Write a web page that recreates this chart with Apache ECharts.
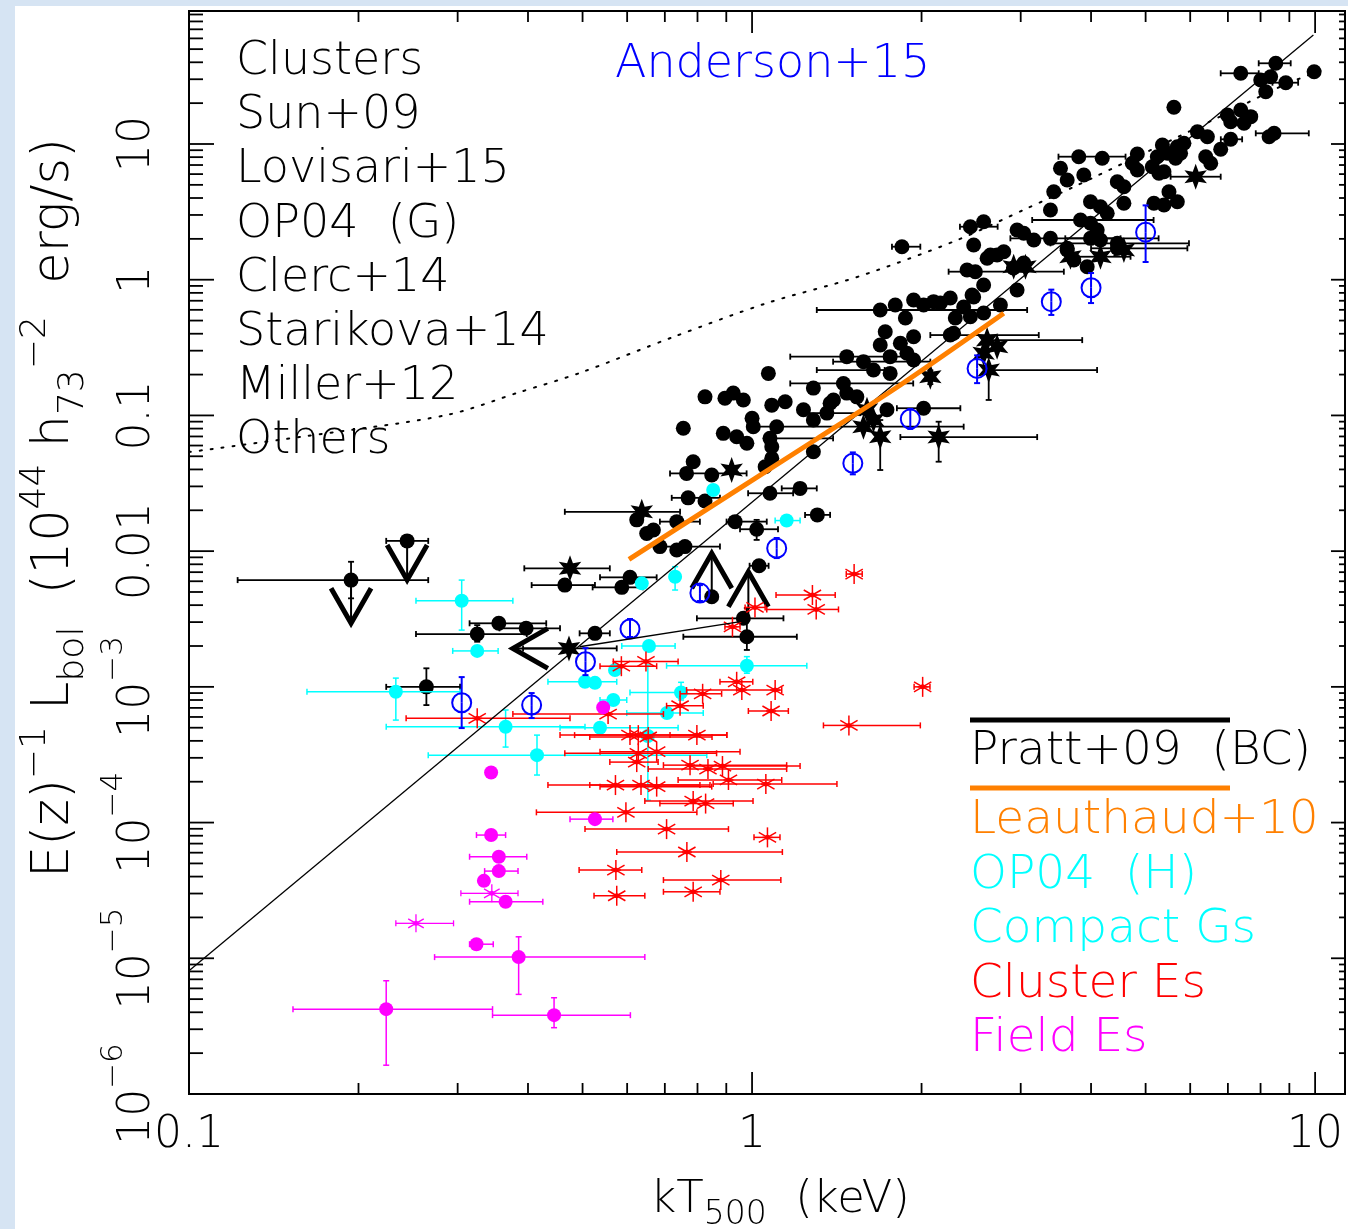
<!DOCTYPE html>
<html>
<head>
<meta charset="utf-8">
<script src="https://cdn.jsdelivr.net/npm/echarts@6/dist/echarts.min.js"></script>
<style>
html,body{margin:0;padding:0;background:#d6e4f3;}
#c{width:1348px;height:1229px;}
</style>
</head>
<body>
<div id="c"></div>
<script>
// ---------------- DATA ----------------
// tick values
const xMajorTicks = [0.1, 1, 10];
const xMinorTicks = [0.2,0.3,0.4,0.5,0.6,0.7,0.8,0.9,2,3,4,5,6,7,8,9];
const yMajorTicks = [1e-6,1e-5,1e-4,1e-3,1e-2,0.1,1,10];
const yMinorTicks = [];
[1e-6,1e-5,1e-4,1e-3,1e-2,0.1,1,10].forEach(function(d){ for (let k=2;k<=9;k++) yMinorTicks.push(+(d*k).toPrecision(3)); });
const xTickLabels = {'-1':'0.1','0':'1','1':'10'};
const yTickLabels = {'-6':'{n|10}{s|\u22126}','-5':'{n|10}{s|\u22125}','-4':'{n|10}{s|\u22124}','-3':'{n|10}{s|\u22123}','-2':'{n|0.01}','-1':'{n|0.1}','0':'{n|1}','1':'{n|10}'};

// Clusters (black filled circles): [kT, L, kTlo, kThi, Llo, Lhi]
const clusterDots = [
 [0.194,6.12e-3,0.122,0.266,4.49e-3,8.35e-3],[0.244,0.0119,0.224,0.266],[0.325,2.45e-3,0.253,0.398,2.15e-3,2.85e-3],
 [0.355,2.94e-3,0.315,0.431],[0.397,2.70e-3,0.356,0.456],[0.526,2.48e-3,0.494,0.559],
 [0.264,1.0e-3,0.224,0.303,7.34e-4,1.37e-3],[0.465,5.62e-3,0.406,0.526],[0.607,6.41e-3,0.537,0.677],
 [0.587,5.41e-3,0.521,0.640],[0.624,0.0170],[0.650,0.0135],[0.668,0.0143],[0.735,0.0165,0.686,0.808],
 [0.686,0.0108],[0.735,0.0102],[0.760,0.0108,0.686,0.877],[0.965,3.20e-3,0.798,1.137],
 [0.979,2.34e-3,0.755,1.201,1.87e-3,3.81e-3],[0.848,4.61e-3],[1.029,7.80e-3,0.99,1.07],
 [0.933,0.0165,0.901,1.062],[1.019,0.0145,0.952,1.112,0.0121,0.0170],[1.306,0.0185,1.242,1.376],
 [1.217,0.0290,1.129,1.303],[1.076,0.0267,0.984,1.183],[0.770,0.0247,0.720,0.877],[0.825,0.0234],
 [0.786,0.0456],[0.765,0.0374,0.715,0.978],[0.848,0.0364],[1.084,0.0483],[1.055,0.0419],[1.285,0.0540],
 [0.755,0.0804],[0.889,0.0738],[0.939,0.0696],[0.979,0.0623],[1.000,0.0952],[1.005,0.0826],
 [1.076,0.0678,1.055,1.393],[1.084,0.0588],[1.106,0.0826],[0.825,0.137],[0.895,0.134],[0.926,0.146],
 [0.965,0.130],[1.084,0.119],[1.145,0.126],[1.234,0.110],[1.285,0.0925],[1.069,0.204],[1.285,0.159],
 [1.453,0.172,1.169,1.933],[1.395,0.130],[1.473,0.146],[1.376,0.123],[1.358,0.104,1.217,1.556],
 [1.535,0.137],[1.736,0.110],[2.017,0.113,1.808,2.344],[1.473,0.271,1.169,1.933],[1.577,0.249,1.393,2.073],
 [1.759,0.271],[1.884,0.287],[1.936,0.256],[1.643,0.216,1.303,1.72],[1.759,0.204],
 [2.249,0.391,2.073,3.230],[1.724,0.414],[1.689,0.330],[1.834,0.340],[1.936,0.380],
 [1.689,0.598,1.303,3.08],[1.936,0.709],[2.017,0.651],[2.160,0.673],[2.376,0.629],[2.475,0.746],
 [2.578,0.568],[2.442,0.534],[2.101,0.689],[2.28,0.403],[1.846,1.751,1.772,1.990],
 [1.796,0.651],[2.249,0.733],[2.761,0.651],[1.872,0.522],[2.296,0.522],
 [2.442,2.458,2.34,2.73],[2.578,2.676],[2.475,1.802],[2.724,1.521],[2.615,1.438],
 [2.492,1.146,2.234,3.579],[2.578,0.914],[2.956,0.840],[2.912,1.219],[3.038,1.327],[2.409,1.179],
 [2.459,0.771],[2.650,1.521],[2.799,1.608],[2.956,2.324],[3.038,2.198],[3.165,1.961],
 [3.388,2.018,2.876,4.513],[3.388,3.264],[3.434,4.451],[3.628,5.429],[3.530,6.62],[3.883,5.909],
 [3.804,8.063,3.501,4.606],[4.187,7.847],[4.453,5.276],[4.575,4.846],[4.735,7.209],[4.833,6.433],
 [4.833,8.441],[5.139,6.80],[5.280,6.083],[5.390,6.250],[5.245,8.063],[5.464,8.54],[5.652,7.847],
 [5.769,8.54],[5.355,9.83],[5.692,9.55],[5.848,10.12],[6.393,8.063],[6.525,7.209],[6.797,9.14],
 [5.501,4.451],[5.692,3.757],[3.991,3.757],[4.157,3.451],[4.273,3.085],[4.575,3.656],[5.172,3.656],
 [5.390,3.552],[3.831,2.754,3.144,5.166],[3.991,2.604],[4.102,2.324],[4.157,1.961],[3.628,1.704],
 [4.453,1.854,3.388,5.970],[3.991,2.018,3.6,5.273],[3.937,1.247],[3.628,1.655],[3.728,1.397],
 [4.453,1.704,4.0,5.931],[5.613,18.64],[6.986,16.36],[7.378,17.81],[7.686,15.90],[7.477,14.21],
 [7.08,14.60],[6.179,12.32],[6.437,11.32],[7.08,10.83,6.8,7.42],[8.456,11.99,7.845,9.745],
 [8.285,11.32],[8.514,39.33,7.94,9.05],[7.378,33.19,6.797,7.94],[9.96,34.10],[8.337,31.33],
 [8.006,29.63],[8.87,28.30,8.4,9.33],[8.172,24.29]
];
// Clusters (black stars)
const clusterStars = [
 [0.473,1.92e-3,0.392,0.575],[0.475,7.47e-3,0.394,0.559],[0.637,0.0195,0.465,0.745],[0.920,0.0396],
 [1.600,0.110],[1.643,0.0925],[1.577,0.0826,1.004,2.376],[1.689,0.0697,0,0,0.0396,0.0925],
 [2.145,0.0693,1.834,3.209,0.0456,0.0899],[2.073,0.193,0,0,0.17,0.215],[2.578,0.287],
 [2.632,0.216,0,4.10,0.130,0],[2.615,0.359,0,3.858],[2.724,0.321],[3.059,1.247],
 [6.136,5.741,5.538,6.797],[3.677,1.477],[4.157,1.477,3.779,4.701],[4.575,1.655],[2.915,1.247]
];
// limits: [kT, L, kT at arrow tip, L at arrow tip]
const limitArrows = [
 [0.194,6.12e-3,0.194,2.94e-3],[0.244,0.0119,0.244,6.12e-3],
 [0.848,4.61e-3,0.848,9.63e-3],[0.985,3.2e-3,0.985,7.05e-3],[0.473,1.92e-3,0.376,1.92e-3]
];
// Anderson+15: [kT, L, -, -, Llo, Lhi]
const anderson15 = [
 [0.305,7.64e-4,0,0,4.97e-4,1.18e-3],[0.406,7.34e-4,0,0,5.89e-4,9.0e-4],[0.506,1.53e-3,0,0,1.22e-3,1.93e-3],
 [0.607,2.67e-3,0,0,2.33e-3,3.16e-3],[0.808,4.91e-3,0,0,4.29e-3,5.62e-3],[1.106,0.0105,0,0,0.00889,0.0125],
 [1.51,0.0444,0,0,0.0368,0.0534],[1.91,0.0941,0,0,0.0795,0.1115],[2.51,0.222,0,0,0.173,0.277],
 [3.40,0.689,0,0,0.550,0.845],[4.00,0.873,0,0,0.673,1.12],[5.00,2.24,0,0,1.35,3.53]
];
// OP04 (H) / Compact groups (cyan)
const compactGroups = [
 [0.305,4.31e-3,0.253,0.376,2.62e-3,6.12e-3],[0.325,1.84e-3,0.294,0.354],[0.233,9.20e-4,0.162,0.303,5.69e-4,1.16e-3],
 [0.365,5.08e-4,0.224,0.505,3.60e-4,6.75e-4],[0.415,3.14e-4,0.266,0.831,2.24e-4,4.41e-4],[0.656,2.0e-3,0.587,0.730],
 [0.505,1.09e-3,0.434,0.575],[0.526,1.07e-3],[0.567,8.0e-4,0.537,0.599],[0.748,9.08e-4,0.607,0.760,8.0e-4,1.08e-3],
 [0.706,6.41e-4,0.599,0.819],[0.653,4.34e-4,0,0,1.46e-4,1.45e-3],[1.152,0.0168,1.099,1.217],
 [0.730,6.48e-3,0,0,5.17e-3,7.68e-3],[0.637,5.79e-3],[0.979,1.43e-3,0.705,1.251,1.26e-3,1.67e-3],
 [0.571,1.33e-3],[0.537,5.0e-4,0.456,0.739],[0.853,0.0282]
];
// Cluster Es (red asterisks)
const clusterEs = [
 [1.518,6.78e-3,1.47,1.569],[1.280,4.75e-3,1.103,1.405],[1.300,3.72e-3,1.062,1.424],[1.012,3.85e-3,0.972,1.055],
 [0.923,2.77e-3,0.895,0.952],[0.648,1.54e-3,0.567,0.739],[0.586,1.42e-3,0.537,0.677],[0.939,1.09e-3,0.877,1.003],
 [0.959,9.47e-4],[1.099,9.47e-4,0.765,1.129],[0.817,8.89e-4,0.745,0.883],[2.009,1.0e-3,1.94,2.07],
 [1.081,6.64e-4,0.985,1.160],[0.745,7.26e-4,0.705,0.819],[0.325,5.86e-4,0.243,0.475],[0.555,6.30e-4,0.376,0.696],
 [1.486,5.20e-4,1.339,1.990],[0.607,4.41e-4,0.456,0.902],[0.628,4.41e-4,0.484,0.808],[0.654,4.27e-4,0.515,0.849],
 [0.798,4.41e-4,0.715,0.902],[0.628,3.24e-4,0.465,0.865],[0.677,3.33e-4,0.537,0.952],[0.624,2.79e-4,0.559,0.681],
 [0.776,2.65e-4,0.696,1.152],[0.835,2.48e-4,0.654,1.152],[0.886,2.61e-4,0.776,1.217],[0.908,2.06e-4,0.739,1.129],
 [1.058,1.92e-4,0.853,1.415],[0.572,1.89e-4,0.434,0.842],[0.635,1.89e-4,0.515,0.808],[0.677,1.84e-4,0.537,0.848],
 [0.786,1.44e-4,0.645,1.004],[0.827,1.38e-4,0.686,0.926],[0.597,1.19e-4,0.414,0.798],[0.705,8.95e-5,0.505,0.908],
 [1.065,7.78e-5,1.008,1.121],[0.766,6.07e-5,0.575,1.132],[0.573,4.47e-5,0.493,0.637],[0.880,3.77e-5,0.696,1.125],
 [0.786,3.09e-5,0.696,0.877],[0.575,2.89e-5,0.524,0.645]
];
// Field Es (magenta)
const fieldEsDots = [
 [0.344,2.34e-4],[0.526,1.06e-4,0.475,0.566],[0.344,8.09e-5,0.324,0.365],[0.355,5.60e-5,0.315,0.398],
 [0.355,4.39e-5,0.335,0.384],[0.334,3.72e-5],[0.365,2.61e-5,0.315,0.425],[0.324,1.27e-5,0.315,0.347],
 [0.385,1.02e-5,0.273,0.645,5.42e-6,1.44e-5],[0.224,4.22e-6,0.153,0.346,1.63e-6,6.83e-6],
 [0.445,3.81e-6,0.346,0.608,3.08e-6,5.12e-6],[0.544,7.06e-4]
];
const fieldEsStars = [[0.345,3.01e-5,0.304,0.384],[0.253,1.81e-5,0.233,0.295]];
// relations
const prattLine = [[0.1,8.1e-6],[9.93,63.5]];
const leauthaudLine = [[0.6045,8.70e-3],[1.294,0.0659],[1.834,0.1675],[2.799,0.5655]];
const othersCurve = [[0.1,0.0537],[0.157,0.0693],[0.287,0.1007],[0.387,0.1487],[0.494,0.2053],[0.724,0.378],
 [1.063,0.673],[1.537,1.047],[2.316,1.962],[3.084,3.37],[3.724,4.82],[6.71,15.6],[8.80,27.2],[10.53,36.3]];
const groupLine = [[0.494,1.975e-3],[0.992,3.10e-3]];
// texts
const leftLabels = ['Clusters','Sun+09','Lovisari+15','OP04  (G)','Clerc+14','Starikova+14','Miller+12','Others'];
const legendLabels = ['Pratt+09  (BC)','Leauthaud+10','OP04  (H)','Compact Gs','Cluster Es','Field Es'];
const legendColors = ['#000000','#ff8000','#00ffff','#00ffff','#ff0000','#ff00ff'];

// ---------------- RENDERING ----------------
const FONT = 'DejaVu Sans';
const FW = 200;
function ptRender(color, marker, size, lw) {
  return function (params, api) {
    const T = api.value(0), L = api.value(1);
    const p = api.coord([T, L]);
    const ch = [];
    const ls = {stroke: color, lineWidth: lw, fill: 'none'};
    const cap = 3;
    function seg(x1, y1, x2, y2) { ch.push({type: 'line', shape: {x1: x1, y1: y1, x2: x2, y2: y2}, style: ls}); }
    const tlo = api.value(2), thi = api.value(3), llo = api.value(4), lhi = api.value(5);
    if (tlo > 0) { const a = api.coord([tlo, L]); seg(a[0], p[1], p[0], p[1]); seg(a[0], p[1] - cap, a[0], p[1] + cap); }
    if (thi > 0) { const a = api.coord([thi, L]); seg(p[0], p[1], a[0], p[1]); seg(a[0], p[1] - cap, a[0], p[1] + cap); }
    if (llo > 0) { const a = api.coord([T, llo]); seg(p[0], p[1], p[0], a[1]); seg(p[0] - cap, a[1], p[0] + cap, a[1]); }
    if (lhi > 0) { const a = api.coord([T, lhi]); seg(p[0], a[1], p[0], p[1]); seg(p[0] - cap, a[1], p[0] + cap, a[1]); }
    if (marker === 'dot') {
      ch.push({type: 'circle', shape: {cx: p[0], cy: p[1], r: size}, style: {fill: color}});
    } else if (marker === 'ring') {
      ch.push({type: 'circle', shape: {cx: p[0], cy: p[1], r: size}, style: {fill: 'none', stroke: color, lineWidth: 2}});
    } else if (marker === 'star') {
      const pts = [];
      for (let k = 0; k < 12; k++) {
        const ang = (-90 + k * 30) * Math.PI / 180;
        const r = (k % 2 === 0) ? size : size * 0.45;
        pts.push([p[0] + r * Math.cos(ang), p[1] + r * Math.sin(ang)]);
      }
      ch.push({type: 'polygon', shape: {points: pts}, style: {fill: color}});
    } else if (marker === 'ast') {
      const s = size;
      seg(p[0], p[1] - s, p[0], p[1] + s);
      seg(p[0] - 0.866 * s, p[1] - 0.5 * s, p[0] + 0.866 * s, p[1] + 0.5 * s);
      seg(p[0] - 0.866 * s, p[1] + 0.5 * s, p[0] + 0.866 * s, p[1] - 0.5 * s);
      seg(p[0] - 0.5 * s, p[1], p[0] + 0.5 * s, p[1]);
      ch.push({type: 'circle', shape: {cx: p[0], cy: p[1], r: 2.5}, style: {fill: color}});
    }
    return {type: 'group', children: ch};
  };
}
function arrowRender(params, api) {
  const p = api.coord([api.value(0), api.value(1)]);
  const t = api.coord([api.value(2), api.value(3)]);
  const dx = t[0] - p[0], dy = t[1] - p[1];
  const len = Math.hypot(dx, dy) || 1;
  const ux = dx / len, uy = dy / len, nx = -uy, ny = ux;
  const A = 35, W = 20;
  const a1 = [t[0] - ux * A + nx * W, t[1] - uy * A + ny * W];
  const a2 = [t[0] - ux * A - nx * W, t[1] - uy * A - ny * W];
  return {type: 'group', children: [
    {type: 'line', shape: {x1: p[0], y1: p[1], x2: t[0], y2: t[1]}, style: {stroke: '#000', lineWidth: 2}},
    {type: 'polyline', shape: {points: [a1, t, a2]}, style: {stroke: '#000', lineWidth: 5, fill: 'none', lineJoin: 'miter', miterLimit: 10}}
  ]};
}
function xTickRender(params, api) {
  const cs = params.coordSys;
  const x = api.coord([api.value(0), 1])[0];
  const len = api.value(2) ? 22 : 11;
  return {type: 'group', children: [
    {type: 'line', shape: {x1: x, y1: cs.y + cs.height, x2: x, y2: cs.y + cs.height - len}, style: {stroke: '#000', lineWidth: 1.8}},
    {type: 'line', shape: {x1: x, y1: cs.y, x2: x, y2: cs.y + len}, style: {stroke: '#000', lineWidth: 1.8}}
  ]};
}
function yTickRender(params, api) {
  const cs = params.coordSys;
  const y = api.coord([1, api.value(1)])[1];
  const major = api.value(2);
  const lenL = major ? 25 : 14, lenR = major ? 14 : 6;
  return {type: 'group', children: [
    {type: 'line', shape: {x1: cs.x, y1: y, x2: cs.x + lenL, y2: y}, style: {stroke: '#000', lineWidth: 1.8}},
    {type: 'line', shape: {x1: cs.x + cs.width, y1: y, x2: cs.x + cs.width - lenR, y2: y}, style: {stroke: '#000', lineWidth: 1.8}}
  ]};
}

const xTickData = xMajorTicks.map(v => [v, 1, 1]).concat(xMinorTicks.map(v => [v, 1, 0]));
const yTickData = yMajorTicks.map(v => [1, v, 1]).concat(yMinorTicks.filter(v => v < 95).map(v => [1, v, 0]));

function custom(name, data, render, z, dims) {
  return {type: 'custom', name: name, data: data, renderItem: render, silent: true, z: z || 2,
          dimensions: dims || ['T', 'L', 'Tlo', 'Thi', 'Llo', 'Lhi'],
          encode: {x: 0, y: 1}, clip: false};
}

const TXT = {fontFamily: FONT, fontWeight: FW};
function txt(o) { return Object.assign({}, TXT, o); }
const graphics = [
  {type: 'rect', z: -100, shape: {x: 15, y: 6, width: 1333, height: 1223}, style: {fill: '#ffffff'}},
  {type: 'rect', z: 100, shape: {x: 189, y: 11, width: 1156, height: 1083}, style: {fill: 'none', stroke: '#000', lineWidth: 2}},
  {type: 'line', z: 100, shape: {x1: 970, y1: 720, x2: 1230, y2: 720}, style: {stroke: '#000', lineWidth: 5}},
  {type: 'line', z: 100, shape: {x1: 970, y1: 788, x2: 1230, y2: 788}, style: {stroke: '#ff8000', lineWidth: 5}},
  {type: 'text', z: 100, x: 615, y: 65, style: txt({text: 'Anderson+15', fill: '#0000ff', fontSize: 46, align: 'left', verticalAlign: 'middle'})},
  {type: 'text', z: 100, x: 780, y: 1200, style: txt({
    text: '{b|kT}{sub|500}{b|  (keV)}', align: 'center', verticalAlign: 'middle', fill: '#000',
    rich: {b: txt({fontSize: 45, lineHeight: 64, verticalAlign: 'middle', fill: '#000'}),
           sub: txt({fontSize: 33, verticalAlign: 'bottom', fill: '#000'})}})},
  {type: 'text', z: 100, x: 55, y: 508, rotation: Math.PI / 2, style: txt({
    text: '{b|E(z)}{sup|\u22121}{b| L}{sub|bol}{b|  (10}{sup|44}{b| h}{sub|73}{sup|\u22122}{b|  erg/s)}',
    align: 'center', verticalAlign: 'middle', fill: '#000',
    rich: {b: txt({fontSize: 51, lineHeight: 74, verticalAlign: 'middle', fill: '#000'}),
           sup: txt({fontSize: 36, verticalAlign: 'top', fill: '#000'}),
           sub: txt({fontSize: 36, verticalAlign: 'bottom', fill: '#000'})}})}
];
const leftY0 = 62, leftStep = 54.2;
leftLabels.forEach(function (t, i) {
  graphics.push({type: 'text', z: 100, x: 236, y: leftY0 + i * leftStep,
    style: txt({text: t, fill: '#000', fontSize: 46, align: 'left', verticalAlign: 'middle'})});
});
const legendYs = [752, 821, 876, 930, 985, 1039];
legendLabels.forEach(function (t, i) {
  graphics.push({type: 'text', z: 100, x: 970, y: legendYs[i],
    style: txt({text: t, fill: legendColors[i], fontSize: 47, align: 'left', verticalAlign: 'middle'})});
});

const chart = echarts.init(document.getElementById('c'), null, {renderer: 'canvas'});
chart.setOption({
  backgroundColor: '#d6e4f3',
  animation: false,
  grid: {left: 189, top: 11, right: 3, bottom: 135, show: false},
  xAxis: {
    type: 'log', min: 0.1, max: 11.3, logBase: 10,
    axisLine: {show: false}, axisTick: {show: false}, splitLine: {show: false},
    axisLabel: {margin: 20, color: '#000', fontSize: 44, fontFamily: FONT, fontWeight: FW,
      formatter: function (v) { const l = Math.log10(v), e = Math.round(l); return Math.abs(l - e) < 0.01 && xTickLabels[e] !== undefined ? xTickLabels[e] : ''; }}
  },
  yAxis: {
    type: 'log', min: 1e-6, max: 95.5, logBase: 10,
    axisLine: {show: false}, axisTick: {show: false}, splitLine: {show: false},
    axisLabel: {rotate: 90, margin: 11, color: '#000', fontFamily: FONT, fontWeight: FW,
      formatter: function (v) { const l = Math.log10(v), e = Math.round(l); return Math.abs(l - e) < 0.01 && yTickLabels[e] !== undefined ? yTickLabels[e] : ''; },
      rich: {n: {fontSize: 44, lineHeight: 80, verticalAlign: 'middle', fontFamily: FONT, fontWeight: FW, color: '#000'},
             s: {fontSize: 31, verticalAlign: 'top', fontFamily: FONT, fontWeight: FW, color: '#000'}}}
  },
  graphic: graphics,
  series: [
    custom('xticks', xTickData, xTickRender, 1, ['v', 'd', 'm']),
    custom('yticks', yTickData, yTickRender, 1, ['d', 'v', 'm']),
    custom('Clusters dots', clusterDots, ptRender('#000000', 'dot', 7.5, 1.8)),
    custom('Clusters stars', clusterStars, ptRender('#000000', 'star', 13, 1.8)),
    custom('Limits', limitArrows, arrowRender, 2, ['T', 'L', 'Tt', 'Lt']),
    custom('Compact Gs', compactGroups, ptRender('#00ffff', 'dot', 7, 1.5)),
    custom('Cluster Es', clusterEs, ptRender('#ff0000', 'ast', 10, 1.5)),
    custom('Field Es', fieldEsDots, ptRender('#ff00ff', 'dot', 7, 1.5)),
    custom('Field Es stars', fieldEsStars, ptRender('#ff00ff', 'ast', 9, 1.3)),
    custom('Anderson+15', anderson15, ptRender('#0000ff', 'ring', 9.5, 2)),
    {type: 'line', name: 'group', data: groupLine, symbol: 'none', silent: true, lineStyle: {color: '#000', width: 1.3}, z: 3},
    {type: 'line', name: 'Pratt+09', data: prattLine, symbol: 'none', silent: true, lineStyle: {color: '#000', width: 1.3}, z: 3},
    {type: 'line', name: 'Others', data: othersCurve, symbol: 'none', smooth: 0.3, silent: true, lineStyle: {color: '#000', width: 2, type: [2, 9], cap: 'round'}, z: 3},
    {type: 'line', name: 'Leauthaud+10', data: leauthaudLine, symbol: 'none', smooth: 0.3, silent: true, lineStyle: {color: '#ff8000', width: 5}, z: 4}
  ]
});
</script>
</body>
</html>
